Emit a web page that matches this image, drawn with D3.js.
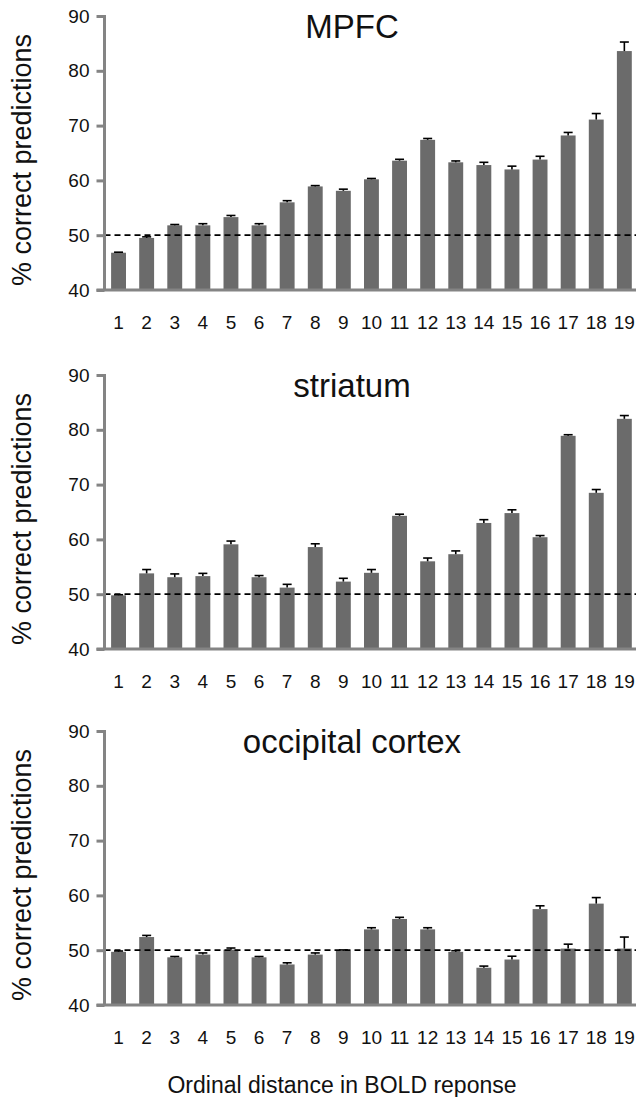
<!DOCTYPE html>
<html>
<head>
<meta charset="utf-8">
<script src="https://cdn.jsdelivr.net/npm/d3@7"></script>
<style>
  body { margin: 0; background: #fff; }
  svg { display: block; font-family: "Liberation Sans", Arial, Helvetica, sans-serif; }
</style>
</head>
<body>
<svg id="chart" width="636" height="1097"></svg>
<script>
// ordinal distance categories (x axis)
const distances = [1, 2, 3, 4, 5, 6, 7, 8, 9, 10, 11, 12, 13, 14, 15, 16, 17, 18, 19];
const yTicks = [40, 50, 60, 70, 80, 90];
const chanceLevel = 50;

// % correct predictions, plus the upward error bar size
const mpfcMeans = [46.8, 49.5, 51.8, 51.8, 53.3, 51.8, 56.0, 58.9, 58.1, 60.2, 63.6, 67.4, 63.3, 62.8, 62.0, 63.8, 68.2, 71.1, 83.6];
const mpfcErrors = [0.1, 0.2, 0.15, 0.3, 0.3, 0.3, 0.3, 0.15, 0.3, 0.15, 0.25, 0.25, 0.25, 0.5, 0.6, 0.6, 0.55, 1.1, 1.65];

const striatumMeans = [49.8, 53.8, 53.1, 53.3, 59.1, 53.1, 51.2, 58.6, 52.3, 53.9, 64.3, 56.0, 57.3, 63.0, 64.8, 60.4, 78.9, 68.5, 82.0];
const striatumErrors = [0.1, 0.7, 0.6, 0.5, 0.6, 0.3, 0.6, 0.6, 0.6, 0.6, 0.3, 0.6, 0.6, 0.6, 0.6, 0.3, 0.2, 0.6, 0.6];

const occipitalMeans = [49.7, 52.4, 48.7, 49.2, 50.1, 48.7, 47.4, 49.2, 49.9, 53.8, 55.7, 53.8, 49.7, 46.8, 48.3, 57.5, 50.3, 58.5, 50.3];
const occipitalErrors = [0.15, 0.3, 0.15, 0.3, 0.3, 0.15, 0.3, 0.3, 0.15, 0.3, 0.3, 0.3, 0.2, 0.3, 0.6, 0.6, 0.8, 1.1, 2.1];

const panelTitles = ['MPFC', 'striatum', 'occipital cortex'];
const yLabel = '% correct predictions';
const xLabel = 'Ordinal distance in BOLD reponse';

const panels = [
  { title: panelTitles[0], means: mpfcMeans, errors: mpfcErrors, top: 16 },
  { title: panelTitles[1], means: striatumMeans, errors: striatumErrors, top: 375 },
  { title: panelTitles[2], means: occipitalMeans, errors: occipitalErrors, top: 731 },
];

const svg = d3.select('#chart');
const axisLeft = 104.5;
const plotHeight = 274;
const axisColor = '#848484';
const barColor = '#6b6b6b';

const x = d3.scaleBand()
  .domain(distances)
  .range([axisLeft, axisLeft + 19 * 28.1])
  .paddingInner(0.47)
  .paddingOuter(0.235);

panels.forEach((p) => {
  const y = d3.scaleLinear().domain([40, 90]).range([p.top + plotHeight, p.top]);
  const g = svg.append('g');

  // bars
  g.selectAll('rect.bar')
    .data(distances)
    .join('rect')
    .attr('class', 'bar')
    .attr('x', (d) => x(d))
    .attr('width', x.bandwidth())
    .attr('y', (d, i) => y(p.means[i]))
    .attr('height', (d, i) => y(40) - y(p.means[i]))
    .attr('fill', barColor);

  // chance line at 50%
  g.append('line')
    .attr('x1', axisLeft).attr('x2', 636)
    .attr('y1', y(chanceLevel)).attr('y2', y(chanceLevel))
    .attr('stroke', '#000')
    .attr('stroke-width', 1.7)
    .attr('stroke-dasharray', '6,4');

  // error bars (upward only)
  const err = g.append('g')
    .attr('stroke', '#000')
    .attr('stroke-width', 1.6)
    .selectAll('g')
    .data(distances)
    .join('g');
  err.append('line')
    .attr('x1', (d) => x(d) + x.bandwidth() / 2)
    .attr('x2', (d) => x(d) + x.bandwidth() / 2)
    .attr('y1', (d, i) => y(p.means[i]))
    .attr('y2', (d, i) => y(p.means[i] + p.errors[i]));
  err.append('line')
    .attr('x1', (d) => x(d) + x.bandwidth() / 2 - 4.5)
    .attr('x2', (d) => x(d) + x.bandwidth() / 2 + 4.5)
    .attr('y1', (d, i) => y(p.means[i] + p.errors[i]))
    .attr('y2', (d, i) => y(p.means[i] + p.errors[i]));

  // y axis
  const ya = g.append('g')
    .attr('transform', `translate(${axisLeft},0)`)
    .call(d3.axisLeft(y).tickValues(yTicks).tickSize(8).tickPadding(7));
  ya.select('.domain').remove();
  ya.append('line')
    .attr('y1', y(90) - 1).attr('y2', y(40))
    .attr('stroke', axisColor).attr('stroke-width', 3);
  ya.selectAll('.tick line').attr('stroke', axisColor).attr('stroke-width', 3);
  ya.selectAll('.tick text')
    .attr('fill', '#111')
    .style('font-size', '19px')
    .style('font-family', '"Liberation Sans", Arial, sans-serif');

  // x axis
  g.append('line')
    .attr('x1', axisLeft - 8).attr('x2', 636)
    .attr('y1', y(40)).attr('y2', y(40))
    .attr('stroke', axisColor).attr('stroke-width', 3);
  const xa = g.append('g')
    .attr('transform', `translate(0,${y(40)})`)
    .call(d3.axisBottom(x).tickSize(0).tickPadding(0));
  xa.select('.domain').remove();
  xa.selectAll('.tick text')
    .attr('dy', null)
    .attr('y', 39)
    .attr('fill', '#111')
    .style('font-size', '19px')
    .style('font-family', '"Liberation Sans", Arial, sans-serif');

  // panel title
  g.append('text')
    .attr('x', 352)
    .attr('y', p.top + 22)
    .attr('text-anchor', 'middle')
    .attr('font-size', 33)
    .attr('fill', '#111')
    .text(p.title);

  // y axis label
  g.append('text')
    .attr('transform', `translate(31,${p.top + plotHeight / 2 + 7}) rotate(-90)`)
    .attr('text-anchor', 'middle')
    .attr('font-size', 27)
    .attr('fill', '#111')
    .text(yLabel);
});

svg.append('text')
  .attr('x', 342)
  .attr('y', 1093)
  .attr('text-anchor', 'middle')
  .attr('font-size', 23)
  .attr('fill', '#111')
  .text(xLabel);
</script>
</body>
</html>
